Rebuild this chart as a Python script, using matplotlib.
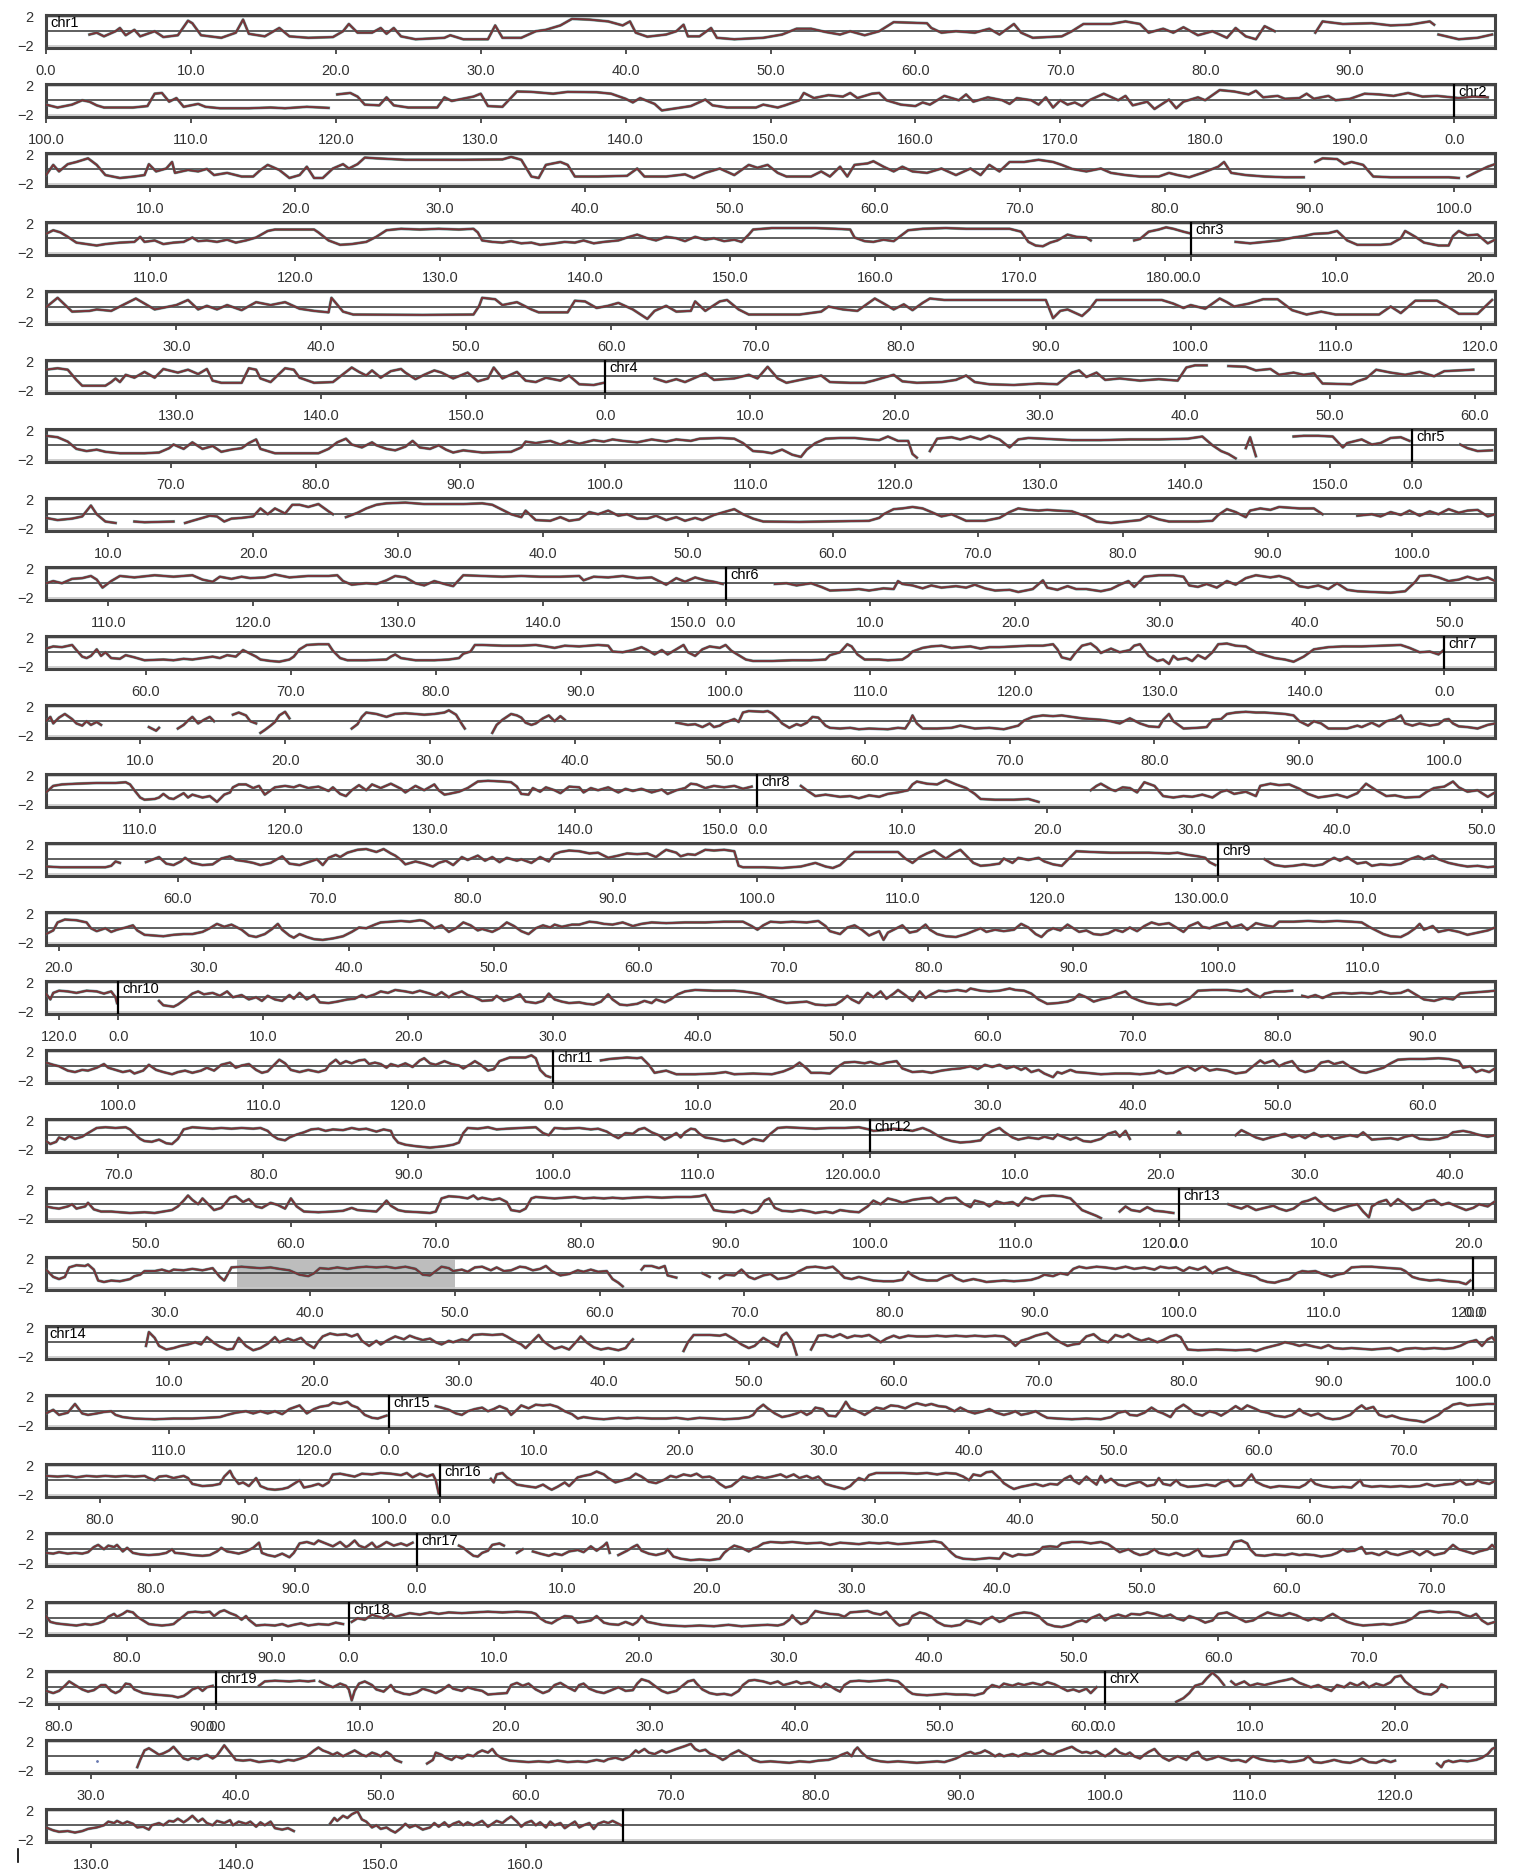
import numpy as np
import matplotlib
matplotlib.use('Agg')
import matplotlib.pyplot as plt  # pylint: disable=wrong-import-position

plt.rcParams['font.family'] = ['Liberation Sans', 'DejaVu Sans']

# chromosome sizes (Mb), laid end to end and wrapped every ROW_MB
CHROMS = ['chr1', 'chr2', 'chr3', 'chr4', 'chr5', 'chr6', 'chr7', 'chr8', 'chr9', 'chr10',
          'chr11', 'chr12', 'chr13', 'chr14', 'chr15', 'chr16', 'chr17', 'chr18', 'chr19', 'chrX']
CHROM_MB = [197.2, 181.8, 159.6, 155.7, 152.6, 149.6, 152.6, 131.8, 124.1, 130.0,
            121.9, 121.3, 120.3, 125.2, 103.5, 98.4, 95.3, 90.8, 61.4, 166.7]
ROW_MB = 100
HIGHLIGHT = ('chr13', 35.0, 50.0)
Y_TICKS = [-2, 2]
Y_TICK_LABELS = ['\u22122', '2']

# profile per row, "position_in_row:value", "|" = no data in between
ROW_PROFILES = [
    # row 1
    "3:-.45 3.5:-.2 4:-.7 4.8:0 5.1:.45 5.5:-.55 6.1:.2 6.5:-.7 7.5:0 8.1:-.8 9.1:-.55 9.8:1.45 10.1:1.1 10.7:-.55 12.1:-.9 13.1:-.2 13.6:1.6 14:-.35 15.1:-.7 16.1:.45 16.8:-.7 18.1:-.9 19.8:-.8 20.5:0 20.9:1 21.5:-.2 22.5:-.2 23.1:.45 23.5:-.35 24:.45 24.5:-.7 25.5:-1.1 27.5:-.9 27.9:-.55 28.8:-1.1 30.5:-1.1 31:.8 31.5:-.9 32.8:-.9 33.8:0 34.5:.2 35.5:.8 36.3:1.7 37.5:1.6 38.8:1.35 39.8:.8 40.3:1.35 40.7:-.2 41.5:-.75 42.8:-.45 43.5:0 44:.9 44.3:-.7 45.1:-.7 45.9:.45 46.3:-.9 47.5:-1.1 49.5:-.9 50.8:-.45 51.8:.35 52.8:.35 53.8:-.1 54.8:-.45 55.5:0 56.5:-.55 57.5:0 58.5:1.25 60.8:1.1 61.1:.45 61.8:-.2 62.8:0 64.1:-.2 65.1:.35 65.8:-.45 66.8:1 67.3:-.2 68.1:-.9 70.1:-.7 70.8:0 71.6:1 73.5:1 74.5:1.35 75.5:1 76.1:-.2 77.1:.35 77.8:-.2 78.5:.55 79.5:-.55 80.5:0 81.5:-.9 82.1:.45 82.8:-.7 83.5:-1.1 84.1:.7 84.8:0 | 87.6:-.2 88.1:1.35 89.5:1 91.5:1.1 92.8:.8 94.1:.9 95.5:1.35 95.8:.9 | 96.1:-.45 97.5:-1.1 98.8:-.9 99.8:-.45",
    # row 2
    "0:-.6 .8:-1 1.8:-.6 2.5:0 3:-.2 3.5:-.7 4:-1 6:-1 7:-.8 7.5:.9 8:1 8.5:-.2 9:.3 9.5:-.9 10.5:-.5 11:-.9 12:-1.1 14:-1.1 15.5:-1 16.5:-1.1 18:-.9 19.5:-1.05 | 20.1:.8 21:1 21.5:.5 22:-.6 23:-.7 23.5:.4 24:-.7 25:-1 27:-1 27.5:.4 28:-.1 29.5:.5 30:.9 30.5:-.8 31.5:-.9 32.5:1.2 33.5:1.15 35:.9 36:1.15 38:1.1 39:.9 40:.2 40.5:-.3 41:.3 42:-.5 42.5:-1.4 43.5:-1.1 44.5:-.8 45.5:.1 46:-.7 47:-1 49:-1 49.5:-.6 50.5:-1 51:-.7 52:0 52.3:1 53:.3 54:.7 55:.5 55.5:1 56:.3 57:.9 57.5:1 58:0 59:-.6 60:-.8 60.5:-.3 61:-.6 62:.6 63:0 63.5:.8 64:-.2 65:.4 66:0 66.5:-.5 67:.3 68:0 68.5:-.6 69:.4 69.5:-1 70:0 70.5:-.6 71:-.3 71.5:-.8 72:0 73:.9 74:0 74.5:.6 75:-.7 76:-.2 76.5:-1.2 77.5:.1 78:-1.1 78.5:-.2 79:.1 79.5:.4 80:0 81:1.4 82:1.2 83:.8 83.5:1.3 84:.4 85:.6 85.5:.2 86.5:.3 87:.9 87.5:.2 88.5:.6 89:0 90:.2 91:.9 92:.8 93:.6 94:1 95:.5 96:.6 97:.4 97.5:.3 98.5:.5 99.5:.4",
    # row 3
    "0:-.8 .5:.6 .9:-.3 1.5:.7 2.1:1 2.9:1.5 3.5:.6 4.1:-.8 5.1:-1.2 6.1:-1 6.8:-.8 7.1:.7 7.6:-.3 8.3:.1 8.7:1 8.9:-.5 9.8:-.1 10.5:-.3 11.1:.05 11.6:-.8 12.5:-.5 13.5:-1 14.3:-1 14.8:-.1 15.3:.6 16.1:-.1 16.8:-1.2 17.5:-.8 18:.35 18.5:-1.2 19.1:-1.2 19.8:.1 20.5:.7 20.9:.1 21.5:.7 22:1.6 22.8:1.5 24.8:1.3 26.1:1.3 28.8:1.3 31.5:1.35 32.1:1.7 32.8:1.3 33.5:-1 34:-1.2 34.5:.6 35.5:1 36:.6 36.5:-1 38.1:-1 40.1:-.9 40.8:.1 41.3:-1 42.8:-1 44.1:-.7 44.7:-1.2 45.5:-.5 46.5:.1 47.5:-.8 48.5:.6 49.1:.2 49.8:.6 50.5:-.5 51.1:-1 52.8:-1 53.5:-.3 54.1:-1 54.8:.35 55.3:-1 55.8:.6 56.7:.8 57.1:1.1 57.8:.35 58.5:-.3 59.1:.35 59.8:-.3 60.8:-.5 61.8:.1 62.8:-.8 63.8:.1 64.5:-.8 65.1:.6 65.8:-.3 66.5:1 67.5:1 68.5:1.3 69.5:1 70.1:.6 70.8:.05 71.8:-.3 72.8:.1 73.5:-.5 74.5:-.8 75.5:-1 76.8:-1 77.5:-.5 78.1:-.8 78.9:-1.1 79.8:-.5 80.9:.35 81.3:1 81.8:-.5 82.8:-.8 84.1:-1 85.5:-1.1 86.8:-1.1 | 87.6:1 88.1:1.5 89.1:1.4 89.6:.7 90.1:1 90.9:.6 91.6:-1 92.8:-1.1 94.8:-1.1 96.8:-1.1 97.5:-1.2 | 98.1:-1 98.8:-.3 99.5:.35 100:.7",
    # row 4
    "0:.6 .5:1.1 1:.8 1.5:.2 2.1:-.6 2.8:-.8 3.5:-1 4.1:-.8 5.1:-.6 6.1:-.5 6.5:.2 6.8:-.5 7.5:-.3 8.1:-.8 8.8:-.6 9.5:-.5 10.1:.1 10.5:-.4 11.1:-.3 11.8:-.5 12.5:-.2 13.1:-.6 13.8:-.3 14.5:.1 15.3:1 15.8:1.2 17.1:1.2 18.5:1.2 18.8:.8 19.5:-.3 20.3:-.9 21.1:-.8 22.1:-.5 22.8:.2 23.5:1.1 24.5:1.3 25.8:1.2 27.1:1.3 28.5:1.2 29.5:1.3 29.8:.8 30.1:-.3 30.8:-.5 31.5:-.6 32.1:-.4 32.8:-.7 33.5:-.6 34.1:-.9 35.1:-.7 35.8:-.5 36.5:-.6 37.1:-.3 37.8:-.7 38.5:-.5 39.5:-.3 40.1:.1 40.8:.5 41.5:0 42.1:-.3 42.8:.2 43.5:0 44.1:-.4 44.8:.2 45.5:-.2 46.1:0 46.8:-.4 47.5:-.2 48:-.5 48.5:.5 48.8:1.2 50.1:1.4 51.5:1.4 53.1:1.4 54.5:1.3 55.5:1.2 55.8:.1 56.5:-.4 57.1:-.5 57.8:-.2 58.5:-.4 59.1:.5 59.5:1.1 60.5:1.3 62.1:1.4 63.5:1.3 65.1:1.3 66.5:1.3 67.3:.9 67.8:-.5 68.3:-1 68.8:-1.1 69.3:-.6 69.8:-.3 70.5:.5 71.1:.2 71.8:.1 72.1:-.3 | 75.1:-.3 75.5:-.1 76.1:.9 76.8:1.2 77.3:1.5 77.8:1.3 78.5:.9 78.9:.7 | 82.1:-.5 83.1:-.7 84.1:-.5 85.1:-.3 86.1:.1 86.8:.3 87.5:.6 88.5:.7 89.1:1 89.8:-.3 90.5:-.9 92.1:-.9 92.8:-.8 93.5:0 93.8:1 94.5:.2 95.1:-.6 96.1:-1 96.8:-1 97.1:.3 97.5:1 98.1:.4 98.8:.5 99.5:-.7 100:-.2",
    # row 5
    "0:0 .8:1.3 1.8:-.6 3:-.5 3.5:-.3 4.5:-.5 6.2:1.2 7.5:-.3 9:.3 9.8:1 10.5:-.3 11.1:.2 11.8:-.3 12.5:.3 13.5:-.4 14.5:.7 15.5:.3 16.5:.7 17.5:-.2 18.5:-.5 19.5:-.7 19.7:1.3 20.5:-.6 21.2:-1 26:-1.05 29.5:-1 29.9:.2 30.1:1.3 31:1.1 31.5:.3 32.5:.7 33.5:-.3 34:-.7 36:-.7 36.5:.9 37.2:.8 38:-.1 38.8:.2 39.5:.6 40.5:-.3 41.5:-1.6 42:-.5 42.8:.2 43.5:-.6 44.5:-.5 44.8:.8 45.5:-.5 46.5:.8 47:1 47.8:-.3 48.5:-1 52:-1 53.5:-.6 54:.1 55:-.3 56:-.5 57.2:1.2 58:.3 58.5:-.3 59.2:.4 59.8:-.4 60.5:.6 61:1.2 62:1 65:1 69:1 69.5:-1.5 70:-.5 70.5:-.3 71.5:-1.2 72:-.3 72.5:1 77:1 77.8:.5 78.5:-.1 79:.3 80:-.2 81:1.2 81.5:.7 82:.1 83:.5 84:1.1 85:1.1 86:-.4 87:-1 88:-.6 89:-1 92:-1 92.8:.1 93.5:-.8 94.5:.9 96:.9 96.8:0 97.5:-.9 98.8:-.9 99.8:1",
    # row 6
    "0:.9 .8:1.1 1.5:.9 2.1:-.5 2.5:-1.3 4.1:-1.3 4.5:-.8 4.8:-.3 5.1:-.8 5.5:.2 6.1:-.2 6.8:.6 7.5:-.2 8.1:1 9.1:.5 9.8:.9 10.5:.3 11.1:1 11.5:-.6 12.1:-.9 13.5:-.9 14:1.1 14.5:.9 14.8:-.3 15.5:-.8 16.5:1.1 17.1:.9 17.5:-.2 18.5:-.9 19.8:-.8 21.1:1.2 21.6:.6 22.1:.1 22.5:.8 23.1:-.2 23.8:.7 24.5:1 24.8:.5 25.5:-.4 26.1:.2 26.8:.8 27.3:.5 28.1:-.3 29.1:.5 29.8:-.7 30.5:-.3 30.9:1.2 31.5:-.3 32.5:.6 33.1:-.6 33.8:-.8 34.5:-.2 35.5:-.6 36.1:.1 36.8:-1.1 37.8:-1.2 38.5:-.9 | 42:-.3 42.8:-.8 43.5:-.4 44.1:-.8 44.8:-.2 45.5:.4 46.1:-.5 47.5:-.3 48.5:.2 49.1:-.3 49.8:1.3 50.5:-.3 51.1:-.9 53.5:.1 54.1:-.8 55.5:-.9 56.5:-.9 57.1:-.6 58.5:.2 59.1:-.7 60.1:-.9 61.8:-.8 62.8:-.5 63.5:.1 64.1:-.8 65.1:-1.1 66.8:-1.2 68.5:-1 69.8:-1.1 70.8:.5 71.3:.8 71.8:-.1 72.5:.5 73.1:-.5 74.1:-.3 75.5:-.6 76.8:-.4 78.1:-.6 78.7:1.2 79.3:1.5 80.1:1.5 | 81.6:1.4 82.8:1.3 83.5:.8 84.5:1 85.1:.2 86.1:.5 86.8:.2 87.5:.4 88.1:-1 90.1:-1.1 90.5:-.7 91.1:-.3 91.8:.9 92.8:.5 93.8:.2 94.8:.6 95.8:0 96.5:.7 97.5:.8 98.5:.9",
    # row 7
    "0:1.3 .8:1.1 1.5:.5 2.1:-.5 2.8:-.8 3.5:-.6 4.1:-.9 5.1:-1.1 6.8:-1.1 7.8:-1 8.5:-.4 8.8:.1 9.5:-.5 10.1:.4 10.8:-.5 11.5:-.1 12.1:-.9 12.8:-.6 13.5:-.4 14:.3 14.5:.8 14.8:-.5 15.8:-1.1 18.8:-1.1 19.5:-.5 20.1:.4 20.7:.9 21.1:.1 21.8:-.3 22.5:.4 22.8:0 23.5:-.5 24.1:-.7 24.8:-.2 25.3:.6 25.8:-.3 26.5:-.5 27.1:0 27.6:-.6 28.1:-1 28.8:-.7 30.1:-1 32.1:-.9 32.8:-.3 33.1:.5 33.8:.3 34.8:.6 35.5:.1 36.1:.6 36.8:.2 37.8:.7 38.5:.5 39.1:.8 39.8:.6 40.8:.4 41.8:.8 42.8:.5 43.5:.8 44.5:.6 45.1:.9 46.5:1 47.5:.9 48.1:.3 48.8:-.8 49.5:-.9 50.1:-1.1 50.8:-.6 51.5:-1.3 52.1:-1.6 52.5:-.6 53.1:.3 53.8:.9 54.8:1 55.8:1 56.8:.8 57.5:.7 58.1:1.2 58.8:.6 59.5:.6 59.8:-1.2 60.1:-1.7 | 61:-.8 61.5:.9 62.5:1.1 63.1:.8 63.8:1.2 64.5:.8 65.1:1.3 65.8:.8 66.5:-.3 67.1:.8 67.8:1 68.8:.9 69.8:.8 70.8:.7 72.8:.7 74.8:.8 76.8:.8 78.8:.9 79.8:1.2 80.5:0 81.1:-.8 81.6:-1.2 82.1:-1.8 | 82.8:-.4 83.1:1.1 83.5:-1.5 | 86.1:1.2 86.8:1.3 87.8:1.3 88.8:1.2 89.5:-.3 89.8:.3 90.8:.8 91.5:.1 92.1:.3 92.8:1 93.5:1.1 94.1:.6 | 97.6:.1 98.1:-.4 98.8:-.8 99.8:-.7",
    # row 8
    "0:-.5 .8:-.8 1.8:-.6 2.5:-.3 3.1:1.2 3.5:0 4.1:-1 4.8:-1.2 | 6.1:-1 6.8:-1.1 8.8:-1 | 9.6:-1.2 10.1:-.9 10.8:-.5 11.3:-.2 11.8:-.3 12.3:-1 12.8:-.6 13.5:-.5 14.3:-.3 14.8:.8 15.3:0 15.8:.8 16.5:.1 17:1.3 17.5:1.3 18.1:1 18.8:1.4 19.5:.4 19.8:0 | 20.7:-.4 21.5:.2 22.1:.8 22.8:1.3 23.5:1.5 24.8:1.6 26.1:1.4 27.5:1.4 28.8:1.4 30.1:1.5 30.8:1.3 31.5:.6 32.1:0 32.8:-.4 33.1:.5 33.8:-.8 34.8:-.9 35.5:-.4 36.1:-.9 36.8:-.7 37.5:.3 38.1:0 38.8:.5 39.5:-.2 40.1:0 40.8:-.6 41.5:-.6 42.1:-.2 42.8:-.8 43.5:-.4 44.1:-.9 44.8:-.5 45.3:-.8 46.1:-.1 46.8:.3 47.5:.7 48.1:0 48.8:-.6 49.5:-1 52:-1.05 56.8:-.9 57.5:-.5 57.8:0 58.5:.7 59.1:.8 59.8:1 60.5:.8 61.1:.3 61.8:-.3 62.5:0 63.5:-.9 64.8:-.9 65.8:-.5 66.5:.3 67.1:.8 67.8:.6 68.5:.5 69.1:.6 69.8:.5 70.8:.4 71.8:-.3 72.5:-1 73.5:-1.2 74.5:-1 75.5:-.8 76.1:-.2 76.8:-.7 77.5:-1 79.5:-1 80.5:-.9 80.9:-.1 81.5:.7 82.1:.3 82.8:-.4 83.1:.5 83.8:.8 84.5:.6 85.1:1 86.5:.8 87.5:.8 88.1:0 | 90.5:-.2 91.5:0 92.1:-.3 92.8:.3 93.5:-.1 94.1:.5 94.8:-.2 95.5:.4 96.1:0 96.8:.7 97.5:.2 98.1:.5 98.8:.6 99.5:-.3 100:0",
    # row 9
    "0:0 .5:.3 1.1:0 1.8:.6 2.5:.7 3.1:1 3.5:.5 3.9:-.6 4.5:.3 5.1:1 6.1:.8 7.5:1.1 8.8:.9 10.1:1.1 10.8:.5 11.5:.2 12:.9 12.8:.6 13.5:.9 14.1:.7 15.1:.8 15.8:1.2 16.8:.8 18.1:1 19.5:1 20.1:1.1 20.5:.3 21.1:-.2 22.1:0 22.8:-.1 23.5:.4 24.1:1 24.8:.8 25.5:0 26.1:-.3 26.8:.3 27.5:-.1 28.1:-.4 28.8:1.1 30.1:1 31.5:.9 32.8:1 34.1:.9 35.5:.9 36.8:1 37.1:.4 37.8:.9 38.8:.8 39.8:1 40.8:.7 41.8:.8 42.8:-.2 43.5:.7 44.1:.2 44.8:.8 45.5:.4 46.1:.2 46.7:-.1 | 50.3:-.1 51.1:0 51.8:-.3 52.8:0 53.5:-.5 54.1:-1 55.5:-.9 56.1:-.8 56.8:-1 57.8:-.7 58.5:-.8 58.8:.3 59.1:-.1 59.8:-.3 60.5:-.7 61.1:-.3 61.8:-.6 62.8:-.4 63.5:-.6 64.1:-.2 64.8:-.7 65.5:-1 66.5:-.9 67.1:-1.2 68.1:-.8 68.8:.4 69.1:-.6 69.8:-.9 70.5:-.4 71.1:-.8 71.8:-.8 72.8:-1.1 73.5:-.8 74.1:-.2 74.7:.3 75.1:-.5 75.8:.9 76.8:1.1 77.8:1.1 78.5:.9 78.9:-.3 79.5:-.5 80.1:-.1 80.8:-.6 81.5:.3 82.1:-.2 82.8:.7 83.5:1.1 84.5:.8 85.1:1 85.8:.6 86.5:-.4 87.1:-.6 87.8:-.3 88.5:-.8 89.1:0 89.8:-.9 90.5:-1.1 91.5:-1.2 92.8:-1.3 93.8:-1.1 94.5:.2 94.8:1 95.5:1.1 96.1:.8 96.8:.3 97.5:.5 98.1:.9 98.8:.5 99.5:.8 100:.3",
    # row 10
    "0:.5 .5:.8 1.1:.7 1.8:1 2.1:.3 2.5:-.6 2.8:-.8 3.1:-.5 3.5:.4 3.8:-.5 4.1:0 4.5:-.8 5.1:-.9 5.5:-.4 6.1:-.7 6.8:-1.1 8.1:-1 8.8:-1.1 9.5:-.9 10.1:-1 10.8:-.8 11.5:-.6 12:-.8 12.5:-.4 13.1:-.6 13.6:.3 14:-.1 14.5:-.6 14.8:-1 15.5:-1.2 16.1:-1.3 16.8:-1 17.1:-.6 17.5:.4 18:1 18.8:1.1 19.5:1.1 19.8:.2 20.3:-.8 20.8:-1.1 22.1:-1.1 23.5:-1 23.8:-.6 24.1:-.3 24.5:-.8 25.5:-1.1 26.8:-1.1 27.8:-1 28.5:-.8 28.8:-.2 29.3:.1 29.6:1 30.1:1 31.5:.9 32.8:.9 33.8:1 34.5:.8 35.1:.6 35.8:.9 36.8:.8 37.5:.9 38.1:1 38.8:.9 39.1:.1 39.8:0 40.5:.3 41.1:.7 41.5:.3 42:-.3 42.5:.3 42.9:-.3 43.5:.4 44:1 44.3:0 44.8:-.5 45.3:.4 45.8:.8 46.5:.6 46.9:1 47.3:.2 47.8:-.4 48.3:-1 48.8:-1.2 50.1:-1.2 51.5:-1.1 52.8:-1.1 53.8:-1 54.1:-.4 54.8:0 55.3:1.1 55.6:.8 56:-.3 56.5:-1 57.5:-1 58.1:-1.1 59.1:-1 59.5:-.5 59.8:.1 60.5:.6 61.1:.8 61.8:.9 62.5:.6 63.1:.7 63.8:.8 64.5:.5 65.1:.7 65.8:.7 66.8:.8 67.8:.9 68.8:.9 69.5:1.1 69.8:.4 70.1:-.7 70.7:-1 71:-.2 71.5:.9 72.1:1.2 72.5:.6 72.8:-.1 73.5:.5 74.1:0 74.8:.3 75.1:.9 75.5:1.1 75.8:.3 76.1:-.5 76.7:-1.2 77.1:-1 77.5:-1.6 77.8:-.5 78.1:-1 78.7:-.8 79.1:-1.2 79.5:-.4 80:-.9 80.5:0 80.9:1.1 81.5:1.2 82.1:.9 82.8:.8 83.5:0 84.1:-.4 84.8:-.8 85.5:-1 86.1:-1.3 86.8:-.6 87.5:.4 88.5:.7 89.5:.8 90.8:.8 92.1:.9 93.5:1 94.1:.6 94.8:0 95.5:.1 96.1:-.3 96.4:.2",
    # row 11
    "0:0 .3:.6 .5:-.3 .9:.5 1.3:1 1.8:.3 2.1:-.3 2.5:-.6 2.8:0 3.1:-.5 3.5:-.1 3.8:-.5 | 7.1:-.8 7.6:-1.3 7.8:-.9 | 9.1:-1 9.5:-.5 9.8:.1 10.1:.6 10.5:-.3 10.9:.2 11.3:.6 11.6:0 | 12.9:.9 13.3:1.2 13.8:.8 14.1:0 14.5:-.3 | 14.8:-1.6 15.1:-1.2 15.5:-.6 15.8:-.1 16.1:.8 16.5:1.3 16.8:.4 | 21.1:-1 21.5:-.4 21.8:.6 22.1:1.2 22.8:1 23.5:.6 24.1:1 24.8:1.1 25.5:1 26.1:.9 26.8:1 27.5:1.2 27.8:1.5 28.3:.9 28.7:-.4 28.9:-1 | 30.8:-1.6 31.1:-.5 31.5:.2 31.8:.6 32.1:1 32.5:.8 32.8:.5 33.1:-.2 33.5:-.5 33.8:-.3 34.3:.4 34.7:.8 35.1:0 35.5:.7 35.8:.2 | 43.5:-.2 43.8:-.3 44.3:-.5 44.8:-.4 45.3:-.8 45.8:-.3 46.1:-.8 46.5:-.6 46.8:-.2 47.1:0 47.5:.3 47.8:-.1 48.1:1.2 48.5:1.4 49.5:1.3 49.8:1.4 50.1:1.1 50.5:.4 50.8:-.3 51.3:-.9 51.8:-.4 52.1:-.6 52.5:-.2 52.9:.6 53.3:.5 53.8:-.6 54.1:-.9 54.8:-1 55.5:-.9 56.1:-1.1 56.8:-1 58.1:-1.1 58.8:-.9 59.3:-1 59.6:-.1 59.8:.8 60.1:-.3 60.5:-1 61.5:-1 62.5:-.9 63.1:-.6 64.1:-1 65.1:-.9 66.1:-1.1 67.1:-.6 67.5:.1 68.1:.6 68.8:.8 69.5:.7 70.1:.8 70.8:.6 71.5:.4 72.1:.3 72.8:.2 73.5:0 74.1:-.3 74.8:.4 75.5:-.3 76.1:-.7 76.8:-.8 77.1:.2 77.5:1 77.8:0 78.5:-1 79.5:-.9 80.1:-.8 80.5:.2 81.1:.3 81.5:1 82.1:1.2 82.8:1.3 83.5:1.2 84.1:1.2 84.8:1.1 85.5:1 86.1:.8 86.5:0 87.1:-.6 87.5:0 88:-.3 88.5:-1 89.8:-1 90.5:-.6 90.8:-.8 91.5:-.2 92:-.7 92.5:0 93.1:.3 93.5:.8 93.8:-.3 94.3:-.6 94.8:-.3 95.5:-.6 96.1:-.4 96.5:.2 96.8:.3 97.1:-.3 97.5:-.7 98.1:-.8 98.8:-1 99.5:-.5 100:-.3",
    # row 12
    "0:-.3 .5:.6 1.1:.8 2.1:.9 3.5:1 4.8:1 5.5:1.1 5.8:.8 6.1:0 6.5:-1 6.8:-1.3 7.5:-1.2 7.8:-1 8.1:-.5 8.5:-1.1 8.8:-1.2 9.5:-.4 9.8:-1 10.1:-.6 10.8:-1 11.3:-.8 11.8:-1.6 12.3:-.6 12.7:-.3 12.9:.4 13.3:.8 13.8:.8 14.3:.3 14.7:.6 15.1:-.6 15.8:.4 16.5:.6 17.1:.4 17.5:.7 18.1:.3 18.8:.5 19.5:-.1 19.8:.4 20.3:-.5 20.7:-.8 21.1:0 21.6:.7 22.1:0 22.5:.8 23.1:.3 23.8:.9 24.5:.2 24.8:-.3 25.5:.6 26.1:0 26.8:.8 27.1:0 27.5:-.6 27.8:-.5 28.5:-.2 29.1:.3 29.8:1.2 30.5:1.3 31.5:1.2 32.1:1.1 32.5:.5 32.8:-.5 33.3:-.6 33.6:.3 34.1:-.2 34.5:.4 35.1:0 35.5:-.4 36.1:.5 36.8:.4 37.1:-.3 37.6:.3 38.1:0 38.8:.4 39.5:-.3 40:.2 40.5:-.1 41.1:.2 41.8:-.3 42.5:.1 42.9:-.5 43.5:0 44.1:.3 44.5:.9 44.9:.8 45.5:.3 46.1:.6 46.8:.4 47.5:.6 48.1:.2 48.7:.5 | 52.1:.6 52.5:0 53.1:-.8 53.8:-.6 54.8:-.9 55.5:-.8 56.1:-1.1 56.8:-.7 57.5:-.9 58.1:-.5 58.8:-.3 59.5:0 59.8:.8 60.1:1.2 60.8:.9 61.5:.8 62.1:1.4 62.8:.8 63.5:.3 64.1:-.5 64.5:-1.2 65.5:-1.3 66.8:-1.3 67.8:-1.2 68.5:-1.6 | 72.1:0 72.5:.6 72.8:.9 73.5:.1 73.8:-.1 74.3:.4 74.8:.3 75.3:-.3 75.8:1.1 76.5:.6 77.1:-.8 77.8:-1 78.5:-.8 79.1:-.9 79.8:-.6 80.5:-1 81.1:-.2 81.5:0 82:-.5 82.8:-.2 83.5:-.8 83.8:.6 84.5:.9 85.1:.7 85.8:.8 86.5:.2 87.1:-.5 87.8:-1 88.5:-.8 89.1:-.6 89.8:-1 90.5:-.4 91.1:.9 91.8:0 92.5:-.8 93.1:-.7 93.8:-1 94.8:-.9 95.3:-.2 95.8:.3 96.5:.5 97.1:1.2 97.5:.4 98.1:-.2 98.8:0 99.1:-.4 99.5:-.9 100:-.3",
    # row 13
    "0:-1 1:-1.1 4.1:-1.1 4.5:-.9 4.8:-.3 5.1:-.5 | 6.9:-.4 7.8:.3 8.3:-.6 8.8:-.8 9.3:-.3 9.6:.2 10.1:-.5 10.8:-.8 11.5:-.7 12.1:.1 12.7:.4 13.1:-.1 13.8:-.3 14.3:-.5 14.8:-.8 15.5:-.5 16.3:.4 16.8:-.6 17.5:-.8 18.1:-.4 18.7:0 19.1:-.8 19.5:.2 20:.6 20.3:.3 20.8:.9 21.5:1.3 22.1:1.4 22.8:1 23.3:1.4 23.8:.8 24.1:.5 24.5:-.1 24.8:-.7 25.5:-.3 26.1:-.6 26.7:-1 27.1:-.5 27.6:-.2 28.1:-.8 28.7:.3 29.1:-.1 29.8:.5 30.3:-.2 30.8:.3 31.3:-.4 31.8:.2 32.5:-.2 32.8:0 33.5:-.5 34.1:.3 34.7:-.3 35.1:.7 35.5:1 36.1:1.2 36.8:1.1 37.5:.8 38.1:.9 38.8:.2 39.5:.5 40.1:.8 40.8:.7 41.5:.8 42.1:.3 42.5:.9 42.8:1.3 43.5:.9 43.8:.4 44.3:.7 44.8:.6 45.5:1.3 46.1:1.2 46.8:1.3 47.5:1.1 47.8:-.9 48.1:-1.1 49.5:-1.1 50.8:-1.2 52.1:-1 53.1:-.5 53.8:-1 54.3:-1.2 54.8:-.8 55.5:.5 55.8:1 56.8:1 58.1:1 58.8:1 59.3:.1 59.8:-.5 60.3:.3 60.8:.8 61.3:1.2 61.8:.5 62.1:.1 62.7:.9 63.1:1.3 63.5:.5 64:-.5 64.5:-.9 65.1:-.8 65.8:-.6 66.1:.1 66.7:-.5 67.1:.2 67.8:-.1 68.5:.2 68.9:-.3 69.5:-.7 70.1:-.9 70.7:.3 71.1:1.1 72.1:1 73.5:.9 74.8:.9 76.1:.9 77.5:.8 78.1:.9 78.8:.6 79.5:.4 80:.2 80.3:-.4 80.7:-.8 | 84.1:0 84.5:-.5 84.8:-.8 85.5:-1 86.1:-.9 86.8:-.7 87.5:-.9 88.1:-.7 88.5:-.2 88.9:.2 89.3:-.2 89.8:.3 90.1:-.1 90.5:-.6 91.1:-.4 91.5:-.9 92.1:-.7 92.8:-.8 93.5:-.6 94.1:0 94.7:.4 95.1:0 95.7:.5 96.1:0 96.8:-.5 97.5:-.8 98.1:-1 98.8:-.9 99.5:-1.1 100:-1",
    # row 14
    "0:-.8 .5:-.3 .8:.8 1.3:1.2 2.1:1.1 2.8:.8 3.1:0 3.5:-.4 4.1:0 4.5:-.5 4.9:-.2 5.5:.1 6:.4 6.3:-.3 6.8:-.9 7.5:-1 8.1:-1.1 8.8:-.9 9.5:-.8 10.1:-.8 10.8:-.5 11.3:0 11.8:.6 12.3:.2 12.8:.5 13.5:-.2 14:-1 14.5:-1.2 15.1:-.8 15.6:-.1 16:.6 16.3:-.2 16.8:-1 17.1:-1.3 17.5:-.8 18:-1.2 18.5:-1.5 19.1:-1.6 19.8:-1.4 20.5:-1.1 21.1:-.5 21.6:.1 22.1:0 22.7:.5 23.1:.8 23.8:.9 24.5:1 25.1:.9 25.8:1.1 26.1:1 26.5:.5 26.8:0 27.3:.4 27.8:-.5 28.3:0 28.8:.8 29.3:.4 29.8:-.3 30.1:-.1 30.8:-.5 31.3:0 31.8:.8 32.3:.3 32.8:-.4 33.3:-.8 33.8:0 34.3:.4 34.8:.1 35.1:.5 35.6:.2 36.3:.5 36.8:.5 37.5:.9 38:.8 38.5:.6 39.1:.5 39.8:.8 40.5:.3 41.1:.6 41.8:.8 42.8:.7 44.1:.8 45.5:.8 46.8:.9 48.1:.9 48.7:.3 49.1:-.2 49.5:.4 50:.9 50.7:.8 51.5:.9 52.5:.8 53.3:1 53.8:.3 54.1:-.4 54.8:-.8 55.3:.1 55.8:.4 56.3:-.2 56.8:-1 57.5:-.4 57.8:-1.6 58.1:-.6 58.7:0 59.1:.4 59.6:-.6 60.1:-.4 60.7:.5 61:-.2 61.5:-.8 62.1:-1.1 62.8:-1.2 63.5:-.8 64:-.4 64.5:0 64.9:-.5 65.5:-.2 66.1:-.4 66.8:-.2 67.3:.6 67.8:.1 68.3:-.8 68.7:-1.2 69.1:-.4 69.5:0 70:-.3 70.5:.5 70.9:0 71.3:-.5 71.8:-.3 72.3:-.8 72.8:-.9 73.3:-.7 73.8:-.2 74.3:-.5 74.8:.1 75.3:-.4 75.8:.3 76.3:.8 76.8:.5 77.5:.7 78:.1 78.5:-.5 78.9:.3 79.5:.8 79.8:.2 80.3:0 80.8:.4 81.5:.8 81.8:.1 82.5:.5 82.9:-.2 83.5:.7 84.1:.4 84.7:.2 85.1:.9 86.1:.9 87.1:1 88.1:.9 89.1:1 90.1:.9 90.8:.8 91.3:.2 91.8:-.3 92.3:-.8 92.8:-1.1 93.5:-1.2 94:-.7 94.5:0 94.8:.6 95.1:-.2 95.7:.3 96.1:-.5 96.8:-.2 97.5:-.5 98.1:-.9 98.8:-.6 99.5:-.3 100:.1",
    # row 15
    "0:.5 .3:-.3 .5:.6 .9:.9 1.5:.8 2.1:.6 2.8:.9 3.5:.8 4:.5 4.5:.8 4.8:0 4.9:-.8 | 7.8:-.5 8.1:-1.1 8.8:-1.3 9.1:-1 9.6:-.3 10.1:.5 10.5:.8 10.9:.4 11.5:.6 12:.2 12.5:.8 12.9:0 13.5:.3 14:-.3 14.5:0 14.9:-.5 15.3:.2 15.8:-.3 16.3:-.5 16.8:.3 17.1:-.2 17.5:.6 18:-.3 18.5:.3 18.9:-.7 19.5:-.8 20.1:-.6 20.8:-.3 21.3:-.2 21.8:.3 22.1:0 22.7:.4 23.1:.8 23.6:.6 24.1:1 24.8:.8 25.3:.6 25.8:.9 26.5:.5 26.9:.2 27.3:.7 27.8:0 28.1:.4 28.7:.8 29.1:.3 29.6:0 30.1:-.5 30.8:-.4 31.1:.2 31.6:-.5 32.1:-.2 32.7:.4 33.1:-.6 33.8:-.8 34.3:-.5 34.7:.5 35.1:-.3 35.6:-.6 36.1:-.8 36.8:-.7 37.3:-.9 37.8:-1 38.3:-.6 38.8:.4 39.1:-.3 39.6:-1 40.1:-1.1 40.8:-.9 41.3:-.5 41.8:-.8 42.1:-.3 42.7:-.7 43.1:-.3 43.6:.4 44.1:.8 44.8:1 46.1:.9 47.5:.9 48.1:.8 48.8:.6 49.3:.4 49.8:0 50.5:-.5 51.1:-.8 51.8:-.7 52.5:-.6 53.1:-1 53.8:-1.1 54.5:-1 54.9:-.5 55.3:.2 55.6:-.3 56.1:-.8 56.7:.6 57.1:0 57.6:.8 58:-.2 58.5:.5 58.8:1 59.3:.3 59.8:-.5 60.3:.8 60.7:-.1 61.1:.4 61.6:.9 62.1:.8 62.9:1 63.5:.8 63.8:1.2 64.5:.9 65.1:.8 65.8:.9 66.5:1.2 66.9:1 67.5:.9 68:.5 68.5:-.3 69.1:-.9 69.8:-.8 70.5:-.6 70.9:-.3 71.3:.4 71.8:0 72.3:-.6 72.8:-.3 73.5:0 74:.5 74.5:.8 74.9:0 75.5:-.5 76:-.8 76.8:-1 77.6:-.9 78:-1.1 78.5:-.6 78.9:-.2 79.5:.9 80.5:1 81.5:1 82.5:.8 82.9:1.1 83.3:.5 83.8:0 84.1:.5 84.8:.8 85.5:.8 86:.9 | 86.7:.2 87.1:0 87.6:.3 88.1:-.1 88.8:.5 89.5:.6 90.1:.5 90.8:.6 91.5:.5 92.1:.8 92.8:.5 93.5:.6 94:1 94.5:.4 95.1:-.3 95.8:-.5 96.5:-.1 97.1:-.3 97.6:.5 98.1:.6 98.8:.7 99.5:.8 100:.9",
    # row 16
    "0:.5 .5:.2 .9:0 1.5:-.6 2:-.8 2.5:-.5 2.9:-.6 3.5:-.2 4:.3 4.3:-.2 4.8:-.5 5.3:-.8 5.8:-.6 6.1:-1 6.7:-.6 7.1:.2 7.6:-.5 8.1:-.8 8.7:-1.1 9.1:-.8 9.6:-.6 10.1:-.9 10.7:-.6 11.1:-.2 11.6:-.6 12.1:.2 12.7:.5 13.1:-.2 13.5:.1 14:.3 14.5:-.5 14.9:-.9 15.3:-.7 15.8:.3 16.1:.9 16.5:.4 16.9:-.5 17.5:-.8 18.1:-.5 18.8:-.8 19.3:-.5 19.6:.3 20:.9 20.3:.3 20.7:.7 21.1:.4 21.6:.8 22:.9 22.3:.3 22.7:.5 23.1:.3 23.5:-.2 23.8:.3 24.3:0 24.8:.4 25.3:-.1 25.8:.8 26.1:1.1 26.5:.4 26.9:.2 27.5:.7 28:.3 28.5:.1 28.8:-.3 29.3:.3 29.6:.7 30:.2 30.5:-.6 30.9:-.4 31.3:.7 32:1.2 33.1:1.2 33.5:1.5 33.8:1.1 34.1:-.5 34.5:-1.3 34.8:-1.5 | 38.3:.8 38.9:1 39.5:1.1 40.1:1.2 40.8:1.1 41.1:1.2 41.6:.2 42:-.9 42.8:-.6 43.5:-1.1 44.8:-1.1 46.1:-1 46.9:-.8 47.5:-1.1 48.8:-1 50.1:-1.1 50.9:-.7 51.5:-.2 52:.5 52.5:-.3 52.8:-.9 53.5:-.9 54.1:-1 54.7:0 55.1:.5 55.8:.6 56.5:.4 56.9:.6 57.5:.2 58:.5 58.7:.7 59.1:-.3 59.8:-.8 60.5:-.7 61.1:-.9 61.8:-.6 62.5:-.4 63.1:-.3 63.8:0 64.3:-.4 64.8:.2 65.3:-.1 65.8:.2 66.3:-.3 66.8:0 67.3:-.5 67.6:-.2 68:-.8 68.5:-.5 68.9:-1 69.5:-1.5 69.8:-.8 70.1:-1 70.7:-.5 71.1:-.8 71.8:-.9 72.8:-1.1 73.8:-1 74.8:-1 75.5:-1.1 76.5:-.9 76.8:-.6 77.3:-1 77.8:-.9 78.3:-.4 78.8:0 79.3:-.6 79.8:0 80.3:-.6 80.8:-.4 81.5:-.6 82.1:-1 82.8:-.8 83.3:0 83.8:.8 84.1:.4 84.7:.8 85.1:0 85.5:.4 86:.7 86.5:-.5 86.9:-.8 87.5:-.5 88:.5 88.5:.7 88.9:.3 89.5:.6 90.1:-.2 90.7:-.8 91.1:-.9 91.8:-.5 92.3:-.2 92.8:.4 93.3:.9 94.1:1 95.1:1 96.1:1.1 96.8:1 97.5:.7 97.8:-.2 98.3:0 98.7:-.8 99.1:-.5 99.6:-.8 100:-.3",
    # row 17
    "0:-.8 .3:-1.2 .7:-.9 .9:-.3 1.3:-.6 1.6:-.1 2:-.5 2.5:-.2 2.9:.3 3.5:1 4.1:1.1 4.8:1 5.5:1.1 5.8:.8 6.1:.2 6.5:-.5 6.8:-.8 7.3:-.9 7.8:-.6 8.3:-1.1 8.7:-1.2 9.1:-.5 9.5:.8 10.1:1.1 10.8:1 11.5:.9 12.1:1 12.8:.9 13.5:1 14.3:.9 14.8:1 15.3:.6 15.6:0 16:-.5 16.5:-.7 16.8:-.3 17.3:.1 17.8:.4 18.3:.8 18.8:.9 19.3:.6 19.8:.8 20.5:.7 21.1:1 21.6:.8 22.1:.9 22.8:.5 23.3:.8 23.8:.6 24:-.3 24.3:-1 24.8:-1.3 25.5:-1.5 26.5:-1.7 27.5:-1.5 28.1:-1.3 28.5:-1 28.8:.3 29.1:1 29.8:.9 30.5:1.1 31.1:.8 31.8:.9 32.8:1 33.8:1.1 34.3:.3 34.7:0 35.1:1 35.8:.9 36.8:1 37.6:.8 38.1:.9 38.7:.5 39.1:0 39.5:-.4 40:.3 40.5:.2 40.9:.8 41.3:1 41.8:.4 42.3:0 42.7:-.6 43.1:-.2 43.5:.3 43.8:-.3 44.1:.4 44.5:.9 44.8:.8 45.1:.2 45.5:-.3 46.1:-.5 46.8:-.8 47.5:-.6 48.1:-1.2 48.8:-.5 49.5:-.8 50:.2 50.5:1 51.1:1.1 52.1:1 53.1:.9 54.1:1 55.1:1 56.1:1.1 56.8:.8 57.1:.6 57.8:.7 58.5:.9 59.1:.8 59.8:.6 60.5:1 61:.6 61.5:0 62:-.5 62.5:-.8 63.1:-1 63.8:-.9 64.5:-.7 64.8:0 65.3:.6 65.8:1 66.1:.5 66.7:-.3 67.1:-.6 67.8:-.3 68.5:-.5 68.9:-.2 69.5:-.5 69.8:.1 70.3:-.3 70.7:-.6 71.1:-.3 71.6:-.8 72.1:-.9 72.8:-.5 73.3:.2 73.8:.5 74.1:-.2 74.5:.6 74.8:-.5 | 78.1:.3 78.2:.5 78.3:.2 | 82.1:0 82.5:.7 82.9:.3 83.5:-.3 84:-.6 84.5:-.3 84.9:-.1 85.5:.2 86:-.3 86.5:0 86.9:-.4 87.5:.3 88:-.2 88.5:0 88.9:-.5 89.5:-.2 90:0 90.5:-.2 90.9:.4 91.5:-.6 92.1:-.5 92.8:-.4 93.3:-.6 93.8:-.2 94.3:0 94.8:-.5 95.5:-.6 96.1:-.5 96.7:-.2 97.1:.4 97.8:.6 98.3:.4 98.8:.1 99.5:-.2 100:0",
    # row 18
    "0:-.3 .5:-.5 .9:-.6 1.5:-.3 1.8:0 2.1:-.6 2.7:-.3 2.9:.2 3.3:-.7 3.8:-1 4.5:-1 5.1:-1.1 5.8:-1.2 6.8:-1.1 7.5:-1.2 8.1:-1 8.7:-.8 9.1:-.3 9.5:.5 9.8:1.2 10.1:.6 10.5:0 10.8:.8 11.1:.2 11.6:-.8 12.1:-.5 12.7:.9 13.1:1.1 13.6:.3 14:.7 14.5:-.3 14.9:-.5 15.5:.2 16:-.1 16.5:-.6 16.9:.8 17.3:-.3 17.8:-1 18.8:-1.1 19.8:-1 20.5:-.9 21.1:-.5 21.5:-.8 22.1:-.9 22.8:-1 23.1:-.4 23.5:.5 23.8:-.2 24.3:-.8 24.8:-1 25.8:-1.1 26.5:-1.2 26.9:-1 27.3:.8 27.8:1.1 28.5:1 29.1:.8 29.5:1.2 29.8:.7 30.1:.9 30.8:.6 31.3:.8 31.8:.3 32.1:-.8 32.7:-1 33.1:-.6 33.5:.8 33.8:1 34.5:.9 35.1:.8 35.8:.9 36.5:1 37.1:.8 37.8:.9 38.5:.8 39.1:.9 39.8:.8 40.5:.9 41.5:1 42.5:.9 43.5:1 44.5:1 45.1:1.1 45.5:1.3 45.8:.2 46.1:-.8 46.7:-1 47.5:-1.1 48.1:-.8 48.7:-1.2 49.1:-.9 49.6:.5 49.9:.8 50.3:-.5 50.8:-.9 51.5:-1 52.1:-.8 52.7:-1 53.1:-1.2 53.8:-1 54.3:-1.2 54.8:-.8 55.5:-1 56.1:-1.1 56.7:-.3 57.1:.5 57.6:0 58.1:.8 58.7:.5 59.1:.2 59.8:.6 60.5:.8 61.1:.9 61.6:.2 62.1:.8 62.8:.9 63.3:.1 63.8:-.4 64.1:.5 64.7:.2 65.1:-.3 65.6:.4 66.1:.1 66.7:.3 67.1:-.2 67.6:.9 68.1:.6 68.7:1.1 69.5:1.2 70.1:1.1 70.7:.8 71.1:0 71.5:-.8 72:-1.2 72.5:-1.6 72.8:-1.9 | 74.1:-1 74.5:-.3 74.9:-.8 75.5:-1 76:-.4 76.5:-.9 77.1:-1 77.8:-1.2 | 81.6:0 82:-.3 82.5:-.6 82.9:-.2 83.5:-.8 84.1:-.5 84.7:-.2 85.1:-.6 85.6:-.9 86.1:-.6 86.7:.3 87.1:.5 87.6:.9 88:.2 88.5:-.6 88.9:-.9 89.5:-.5 90:-.2 90.5:0 90.9:-1 91.3:-1.8 91.5:-.3 92:.3 92.5:.6 92.8:-.2 93.3:.7 93.8:0 94.3:-.8 94.8:-.5 95.3:.4 95.8:.6 96.3:-.1 96.8:.2 97.5:-.4 98:-.8 98.5:-.5 98.9:0 99.5:-.3 100:.4",
    # row 19
    "0:.5 .5:-.5 .9:-.8 1.3:-.5 1.6:.8 2.1:1.1 2.7:1 2.9:1.2 3.3:.5 3.6:-1 4:-1.2 4.5:-1 5.1:-1.1 5.8:-.8 6.1:-.4 6.5:-.2 6.8:.3 7.5:.3 8:.5 8.5:.2 8.8:.5 9.5:.4 10.1:.6 10.8:.4 11.5:.7 12:-.5 12.3:-1 12.5:-.3 12.8:.8 13.5:.9 14.1:.8 14.8:.7 15.5:.8 16.1:.6 16.8:.4 17.5:-.2 18.1:-.4 18.5:0 18.9:.7 19.5:.6 20.1:.8 20.8:.6 21.5:.8 22.1:.9 22.8:.8 23.5:.9 24.1:.7 24.8:.9 25.5:.6 26:-.2 26.5:-.3 26.9:.3 27.3:.9 27.8:.7 28.1:.3 28.7:.5 29.1:.2 29.6:.8 30.1:.9 30.7:.4 31.1:.8 31.6:.3 32.1:.4 32.7:.9 33.1:.8 33.6:.4 34.1:.6 34.5:1 34.9:.3 35.5:-.3 36.1:-.1 36.7:.4 37.1:.2 37.6:.5 38.1:.2 38.7:.3 39.1:-.8 39.5:-1.3 39.8:-1.8 | 41.1:.5 41.3:1 41.8:1 42.3:.7 42.7:1 42.9:-.3 43.5:-.6 | 45.3:0 45.8:-.5 | 46.5:-.7 46.9:-.2 47.5:-.3 48:.5 48.5:-.5 48.9:-.8 49.5:-.3 50:-.1 50.5:-.8 51.1:-.6 51.6:-.2 52:.3 52.5:.8 53.1:.9 53.8:.7 54.3:.9 54.7:.2 55.1:-.6 55.6:-.8 56.1:-.5 56.7:-.8 57.1:-1 57.8:-1.1 58.5:-1.1 59.1:-.9 59.5:.2 59.8:-.3 60.3:-.8 60.8:-1 61.5:-1 62:-.5 62.5:-.2 62.8:-.7 63.3:-1.1 64:-.8 64.5:-1 64.9:-1.2 65.5:-1.1 66.1:-1 66.8:-1.1 67.5:-1 68:-.9 68.5:-.6 68.9:-.2 69.5:-.4 70:0 70.5:-.2 70.9:.6 71.3:.9 71.8:.7 72.5:.9 73.1:.8 73.8:.6 74.5:.9 75.1:.6 75.8:.8 76.5:.5 76.9:.9 77.5:.7 78:.8 78.5:.3 78.9:.8 79.5:.5 80:.9 80.5:0 80.9:.5 81.5:.8 82:.3 82.5:0 82.9:-.2 83.5:-.5 83.8:-.9 84.3:-1.2 84.8:-1.3 85.3:-1 85.8:-.8 86.3:0 86.7:.3 87.1:.2 87.6:.3 88.1:-.1 88.7:-.5 89.1:-.2 89.6:0 90.1:.8 90.8:.9 91.5:.9 92.1:.8 92.8:.7 93.5:.6 93.8:.3 94.3:-.5 94.8:-.8 95.5:-1 96.1:-.9 96.8:-1.1 97.5:-1.2 98:-1.5 98.3:-1",
    # row 20
    "6.9:-.5 7.1:1.4 7.5:.6 7.8:-.5 8.3:-1 8.8:-.8 9.3:-.5 9.8:-.3 10.3:0 10.7:-.3 11.1:.7 11.6:-.1 12:-.6 12.5:-1 12.9:-.9 13.3:.6 13.8:-.5 14.3:-1.1 14.8:-.8 15.3:-.2 15.8:.7 16.1:0 16.7:.5 17.1:.2 17.6:.6 18:-.2 18.5:-.8 18.8:.1 19.1:.8 19.6:1.2 20.1:1 20.7:1.1 21.1:.8 21.5:1.1 21.8:.2 22.3:-.5 22.8:.2 23.1:-.3 23.6:.3 24.1:.8 24.7:.4 25.1:.9 25.5:.6 26:.3 26.5:.5 26.9:0 27.3:-.3 27.8:.2 28.1:0 28.7:.4 29.1:.2 29.5:1 30.1:1.1 30.8:1 31.5:1.1 31.8:.8 32.3:.2 32.8:-.3 33.1:-.8 33.6:.2 34:1 34.3:.2 34.7:-.4 35.1:-.9 35.6:-.6 36.1:-1 36.7:.3 36.9:.8 37.3:0 37.8:-.7 38.3:-1 38.8:-.8 39.5:-1.1 40:-.8 40.3:0 40.5:.4 | 44:-1.2 44.3:0 44.7:1 45.1:1 45.8:1 46.5:.9 46.9:1.1 47.5:.4 48:-.3 48.5:-.8 48.9:-.5 49.5:.6 50:0 50.5:-.6 50.8:.9 51.1:1.3 51.5:.2 51.8:-1.7 | 52.8:-1 53.3:.9 53.8:1 54.3:.7 54.8:1.1 55.3:.6 55.8:.9 56.3:.8 56.8:1 57.3:.4 57.6:0 58:.5 58.5:.9 58.9:.6 59.5:.9 60.1:.8 60.8:.8 61.5:.9 62.1:.8 62.8:.9 63.5:.8 64.1:.9 64.8:.8 65.5:.9 66.1:.8 66.5:.3 66.9:-.5 67.3:.2 67.8:.5 68.3:.9 68.7:1.1 69.1:1.3 69.6:.5 70:0 70.5:-.5 70.9:-.3 71.3:-.2 71.8:.8 72.3:1.1 72.8:.3 73.3:0 73.8:1 74.3:.7 74.7:1.1 75.1:.6 75.6:.2 76.1:.5 76.7:0 77.1:.3 77.6:.8 78:1 78.3:.7 78.5:0 78.8:-1 79.5:-1.1 80.8:-1 82.1:-1.1 83.1:-1 83.5:-1.2 84.1:-.8 84.7:-.5 85.1:-.3 85.5:0 86:-.2 86.5:-.5 86.9:-.3 87.5:-.6 88:-.8 88.5:-.4 88.9:-.8 89.5:-.9 90.1:-.8 90.8:-.9 91.5:-1 92.1:-.9 92.8:-.8 93.3:-1.2 93.8:-.9 94.5:-.8 95.1:-.9 95.8:-.8 96.5:-.9 97.1:-.8 97.6:-.5 98.1:0 98.7:.3 99.1:-.5 99.5:.4 99.8:.7 100:.2",
    # row 21
    "0:-.3 .5:.2 .9:-.5 1.5:-.2 2:1 2.5:-.3 2.9:-.5 3.5:-.3 4:-.1 4.5:0 4.8:-.5 5.3:-.8 6.1:-1 7.5:-1.1 8.8:-1 10.1:-1 11.1:-.9 12:-.8 12.5:-.5 13.1:-.2 13.8:0 14.3:-.3 14.8:0 15.3:-.3 15.8:0 16.3:-.4 16.8:.3 17.5:.8 18:-.3 18.5:.3 18.9:.6 19.5:.8 19.8:1.2 20.3:1 20.8:1.3 21.1:.8 21.5:.5 22:-.5 22.5:-.9 22.9:-1 23.5:-.6 | 26.9:.7 27.3:.5 27.8:.2 28.3:-.3 28.7:-.5 29.1:0 29.6:.3 30.1:.5 30.5:0 30.9:.3 31.3:.7 31.8:.3 32.1:-.5 32.5:.2 32.8:.8 33.3:.4 33.8:.9 34.3:.8 34.8:.9 35.3:.6 35.8:0 36.3:-.4 36.7:-1 37.1:-.8 37.8:-1 38.5:-1.1 39.5:-.9 40.1:-1 40.8:-.9 41.8:-1 42.8:-1 43.5:-.9 44.3:-1.1 45.1:-.9 46:-1 46.8:-1.1 47.8:-1 48.5:-.8 48.8:-.5 49.1:.3 49.5:.9 49.8:.4 50.3:-.3 50.8:-.8 51.3:-.6 51.8:-.3 52.1:0 52.5:-.5 52.8:-.2 53.1:.5 53.6:.3 54:-.6 54.5:-.7 54.9:.3 55.2:1.3 55.5:.4 56:0 56.5:-.5 56.9:0 57.3:.5 57.8:.3 58.3:.8 58.8:.7 59.3:.4 59.8:.9 60.1:1.1 60.7:.8 61.1:1 61.6:.7 62.1:.6 62.7:0 63.1:.5 63.6:0 64.1:-.3 64.7:0 65.1:.3 65.6:-.2 66.1:-.5 66.5:-.3 66.9:0 67.3:-.5 67.8:-.3 68.3:0 68.7:-.5 69.1:-.9 69.8:-1 70.8:-1.1 71.8:-1 72.8:-1.1 73.5:-.8 74:-.2 74.5:0 74.8:-.5 75.3:-.6 75.8:-.2 76.3:.5 76.7:0 77.1:-.3 77.6:-.8 78:.3 78.5:.9 78.8:.5 79.3:-.3 79.8:-.6 80.3:0 80.7:-.2 81.1:-.6 81.6:0 82.1:.7 82.5:.2 82.9:.8 83.5:.3 83.8:0 84.3:-.2 84.8:-.6 85.5:-.8 86:-.5 86.5:.3 86.8:-.2 87.3:-.6 87.8:-.3 88.3:-.9 88.8:-1.1 89.3:-1 90:-.5 90.5:.4 90.8:.8 91.1:.3 91.6:.6 92:-.5 92.5:-.8 92.9:-.6 93.5:-1 94.1:-1.2 94.6:-1.3 95.1:-1.5 95.6:-1 96.1:-.5 96.5:.2 96.8:.5 97.1:.9 97.6:1.1 98.1:.8 98.8:.9 99.5:1 100:1",
    # row 22
    "0:.6 .8:.5 1.5:.6 2.1:.4 2.8:.6 3.5:.5 4.1:.6 4.8:.5 5.5:.6 6.1:.5 6.8:.6 7.1:.3 7.5:0 7.8:.5 8.3:.6 8.8:.3 9.5:.6 9.8:.3 10.1:-.5 10.8:-.8 11.5:-.7 12:-.5 12.3:.5 12.7:1.3 12.9:.5 13.3:-.5 13.6:-.3 14:-.8 14.5:.3 14.8:-.8 15.3:-1.2 15.8:-1.3 16.3:-1.2 16.7:-1 17.1:-.5 17.5:0 17.8:-1 18.3:-.8 18.8:-.5 19.1:-.8 19.5:-.3 19.8:.8 20.3:.9 20.8:.7 21.3:.5 21.8:.9 22.5:.8 23.1:1 23.8:.9 24.5:.7 24.9:1 25.3:.4 25.8:.9 26.3:.5 26.7:.8 26.9:0 27.1:-1.8 | 30.7:.2 30.9:-.3 31.1:.8 31.5:1 31.8:.4 32.1:0 32.5:-.6 33.1:-.8 33.8:-1 34.3:-.6 34.7:-1.1 34.9:-1.3 35.3:-.9 35.8:-.3 36.1:-.8 36.7:.4 37.1:.6 37.6:.8 38:1.2 38.5:.8 38.8:.3 39.3:-.3 39.8:0 40.3:.3 40.7:.9 41.1:.5 41.6:-.2 42.1:-.4 42.7:.1 43.1:.6 43.5:.4 44:.8 44.5:.6 44.9:.9 45.3:.4 45.8:.5 46.1:.2 46.5:-.5 46.9:-1 47.3:-.8 47.8:0 48.1:.5 48.7:.2 49.1:.5 49.6:.3 50.1:.5 50.7:.8 51.1:.4 51.6:.8 52:.3 52.5:.6 52.9:.2 53.3:.5 53.8:-.5 54.3:-.8 54.7:-1 55.1:-1.2 55.5:-.8 55.8:-.2 56.1:.3 56.5:0 56.8:.7 57.3:1 58.1:1 59.1:1 60.1:.9 60.8:1 61.5:.8 62.1:1 62.8:.9 63.3:.5 63.7:0 64:.8 64.5:.6 64.9:1.1 65.3:1.2 65.8:.3 66.1:-.4 66.5:-.9 66.8:-1.2 67.3:-.9 67.8:-.7 68.3:-.5 68.8:-.8 69.3:-.5 69.8:-.6 70.3:.2 70.7:.6 70.9:0 71.3:-.5 71.8:.5 72.1:0 72.5:-.6 72.8:.6 73.1:-.3 73.5:.2 74:-.6 74.5:-.8 74.9:-.5 75.5:-.2 76:-.8 76.5:-.6 76.8:.3 77.1:-.5 77.6:-.7 78:0 78.3:-.6 78.8:-.9 79.5:-.8 80.1:-.6 80.7:-.8 81.1:-.3 81.6:0 82:-.8 82.5:-.7 82.9:.1 83.2:.8 83.5:-.2 84:-.7 84.5:-1 85.1:-.8 85.8:-.9 86.5:-1 86.9:-.6 87.3:.1 87.6:-.5 88.1:-.8 88.8:-1 89.5:-.9 90.1:-1 90.7:0 90.9:-.7 91.5:-.9 92.1:-.8 92.8:-.9 93.5:-.8 94.1:-.9 94.8:-.8 95.3:-.5 95.8:-.8 96.5:-.6 97.1:-.5 97.6:0 98:-.6 98.5:-.5 98.8:0 99.1:-.3 99.6:-.5 100:-.1",
    # row 23
    "0:-.5 .5:-.6 .9:-.4 1.5:-.6 2:-.5 2.5:-.6 2.9:-.4 3.3:.3 3.6:.6 4:0 4.3:.5 4.7:.3 4.9:.6 5.3:-.3 5.6:.2 6:-.5 6.5:-.7 7.1:-.8 7.8:-.7 8.3:-.5 8.7:0 8.9:-.5 9.5:-.6 10.1:-.8 10.8:-.9 11.3:-.8 11.8:-.3 12.1:.2 12.5:-.3 12.8:-.4 13.3:-.6 13.8:-.3 14.3:.2 14.7:.9 14.9:-.5 15.3:-.8 15.8:-1 16.3:-.6 16.8:-1.1 17.1:-.5 17.5:.8 18:1 18.5:.7 18.8:1.2 19.3:.8 19.8:.4 20.3:1 20.7:.3 20.9:.5 21.3:1.2 21.6:.5 22:.2 22.5:.9 22.8:.2 23.1:.5 23.5:1 24:.5 24.5:.8 24.9:.5 25.3:.9 | 28.5:.5 28.8:.2 29.1:-.3 29.5:-.9 29.8:-1 30.1:-.5 30.5:-.2 30.8:.6 31.3:.8 31.6:.5 | 32.5:-.5 32.9:0 | 33.6:-.3 34.1:-.6 34.7:-.9 35.1:-.6 35.6:-.8 36.1:-.3 36.7:-.1 37.1:-.4 37.6:.4 38:-.2 38.5:.5 38.7:.9 38.9:-.5 | 39.5:-.8 39.8:-.5 40.1:-.2 40.5:.3 40.8:.6 41.1:-.2 41.6:-.6 42.1:-.8 42.7:-.5 42.9:0 43.3:-1 43.8:-1.3 44.5:-1.5 45.1:-1.4 45.8:-1.5 46.5:-1.3 46.8:-.5 47.1:0 47.5:.5 48:.2 48.5:-.3 48.8:.1 49.1:.3 49.5:.8 50:1 50.8:.9 51.5:1 52.5:.8 53.5:.9 54.1:.6 54.8:.9 55.5:.8 56.1:.7 56.8:.9 57.5:.8 58.1:.9 58.8:.7 59.5:.8 60.1:.9 60.8:1 61.3:1.1 61.8:.9 62.1:.3 62.5:-.5 62.8:-1 63.3:-1.3 64.1:-1.4 65.1:-1.2 65.8:-1.3 66.1:-.5 66.7:-1 67.1:-.7 67.6:-.8 68.1:-.7 68.5:-.3 68.8:.3 69.3:.4 69.8:.3 70.1:.8 70.8:1 71.5:1 72.1:.8 72.8:1 73.3:.7 73.8:0 74.1:-.4 74.7:0 75.1:-.5 75.5:-.8 76:-.6 76.5:0 76.8:-.5 77.5:-.8 78:-.5 78.5:-.9 78.9:-.7 79.5:0 79.8:-.9 80.3:-1 80.9:-.9 81.5:-.7 81.8:.3 82:1 82.5:1.2 82.9:.8 83.1:0 83.5:-.8 84.1:-.9 84.8:-.7 85.5:-.8 86:-.6 86.5:-.8 86.9:-.7 87.5:-.8 88:-1 88.7:-.8 89.1:-.5 89.5:0 89.8:-.3 90.3:-.2 90.8:.3 91.1:-.6 91.5:-.5 92:-.8 92.5:-.3 92.8:-.6 93.3:-.8 93.8:-.5 94.3:-.2 94.8:-.8 95.3:-.2 95.8:-.8 96.5:-.5 97.1:.6 97.5:0 98:-.3 98.5:-.6 98.9:-.3 99.5:0 99.8:.6 100:.2",
    # row 24
    "0:.3 .3:-.5 .7:-.7 1.1:-.8 1.6:-.9 2.1:-1 2.7:-.8 3.1:-.9 3.6:-.7 4:-.4 4.3:.2 4.7:.6 4.9:.2 5.3:.6 5.6:1 6:.8 6.3:.2 6.7:-.3 7.1:-.8 7.5:-.9 8:-1 8.5:-.9 8.8:-.8 9.1:-.3 9.5:.3 9.8:.8 10.3:.9 10.8:.8 11.3:.9 11.6:.3 12:.9 12.3:1.1 12.7:.7 13.1:.4 13.5:-.2 13.8:.3 14:-.2 14.5:-1 15.1:-.9 15.8:-1 16.3:-.8 16.7:-1.1 17.1:-.9 17.6:-.7 18.1:-1 18.8:-.8 19.5:-.9 20:-.6 20.5:-.8 | 21.1:-.5 21.5:0 22:-.2 22.5:.5 22.8:.3 23.3:0 23.8:.6 24.1:.2 24.7:.5 25.1:.7 25.8:.5 26.5:.8 27.1:.6 27.8:.8 28.7:.7 29.5:.8 30.5:.9 31.5:.8 32.5:.9 33.5:.8 33.8:.6 34.1:0 34.5:-.5 34.9:-.7 35.3:-.2 35.8:.3 36.3:.2 36.7:-.6 37.1:-.5 37.6:-.3 38:.3 38.5:-.6 38.9:-.8 39.5:-.9 40:-.5 40.5:-.9 40.8:-.5 41.1:.3 41.5:-.5 42:-.7 42.5:-.9 43.1:-1 44.1:-1.1 45.1:-1 46.1:-1.1 47.1:-.9 48:-1.1 48.8:-1 49.8:-.9 50.5:-1 50.9:-.8 51.3:-.2 51.5:.4 51.8:-.3 52.1:-.8 52.5:-.5 52.8:.3 53.1:1 53.5:.8 54.1:.6 54.7:.5 55.1:.2 55.5:.8 56.1:.9 56.7:1 57.1:.7 57.6:.5 58:.9 58.3:.2 58.7:-.7 58.9:-1 59.5:-.7 59.8:.3 60.3:.8 60.7:.6 61.1:.2 61.5:-.5 62:-1 62.5:-1.1 63.1:-.9 63.5:-.3 64:-.5 64.5:-.8 64.8:-.3 65.3:.2 65.8:-.5 66.1:-.3 66.5:.3 66.9:.6 67.5:.8 68:.7 68.5:.3 68.8:-.3 69.1:-.8 69.6:-1.1 70.1:-1.2 70.7:-.9 71.1:-.5 71.5:-.3 71.8:-.5 72.1:0 72.7:.5 73.1:-.3 73.5:.2 74:.5 74.5:.2 74.9:.6 75.5:.5 76:.8 76.5:.6 76.8:.4 77.1:.2 77.6:.5 78:0 78.5:-.3 78.9:.3 79.5:-.1 80:-.6 80.5:-.3 80.9:.6 81.5:.8 82:.3 82.3:0 82.8:-.5 83.3:-.3 83.8:.3 84.3:.8 84.8:.5 85.3:.3 85.8:.7 86.3:.4 86.7:0 87.1:-.3 87.5:0 88:-.3 88.5:.3 88.8:.6 89.3:0 89.8:-.5 90.3:-.8 90.9:-1 91.6:-.9 92.3:-.8 92.8:-.9 93.3:-.7 93.8:-.5 94.3:0 94.8:.8 95.5:1 96.1:.8 96.8:.9 97.5:.8 97.8:.5 98.3:.2 98.7:.6 99.1:-.3 99.5:-.8 100:-.5",
    # row 25
    "0:-.5 .5:-.8 .9:-.5 1.3:.2 1.6:.8 2:.3 2.5:-.3 2.9:-.6 3.3:-.4 3.8:.3 4.1:.3 4.5:-.5 4.8:-.8 5.1:-.5 5.5:.5 5.8:.4 6.1:-.3 6.7:-.8 7.5:-1 8.1:-1.1 8.7:-1.2 9.1:-1.4 9.5:-1.2 9.8:-.8 10.1:-.3 10.5:0 10.8:-.5 11.1:0 11.5:.2 | 14.7:.2 15.1:.8 15.8:.9 16.8:.8 17.5:.9 18.1:.8 18.5:.9 | 18.9:.8 19.3:.4 19.8:0 20.3:.5 20.7:.2 20.9:-.3 21.1:-1.8 21.3:-.5 21.6:.5 22:.8 22.5:.3 22.8:-.3 23.3:-.6 23.8:.3 24.1:-.5 24.7:-.9 25.1:-1 25.6:-.7 26:-.2 26.5:-.5 26.9:-.8 27.3:-.4 27.8:.3 28.1:-.2 28.7:-.5 29.1:0 29.6:-.3 30.1:-.5 30.5:-1 31.1:-.9 31.8:-.8 32.1:.3 32.5:.6 32.9:.2 33.3:.5 33.8:-.3 34.3:-.8 34.7:-.5 35.1:.3 35.5:.6 36:0 36.5:-.5 36.8:.3 37.1:.5 37.5:-.2 38:-.6 38.5:-.8 38.9:-.5 39.5:0 40:-.5 40.5:-.4 40.8:.5 41.1:1.1 41.6:.8 42:.2 42.5:-.5 42.9:-.8 43.5:-.5 43.8:0 44.3:.8 44.7:1 44.9:.5 45.3:-.3 45.8:-.8 46.3:-1 46.8:-.9 47.3:-1.1 47.8:-.5 48.1:.3 48.5:.9 48.9:1 49.5:.8 50:.5 50.5:.8 50.9:.3 51.3:.5 51.8:.8 52.1:.5 52.7:.7 53.1:.3 53.5:0 53.8:.5 54.1:.2 54.5:-.3 54.8:-.6 55.1:.3 55.5:.8 56.1:.9 56.8:.8 57.5:.9 58.1:1 58.8:.8 59.1:.3 59.5:-.5 59.8:-.9 60.1:-1 60.8:-1.1 61.5:-1 62.1:-.9 62.8:-1 63.5:-1 64.1:-1.1 64.7:-.8 64.9:-.3 65.3:.3 65.8:0 66.1:.5 66.7:.2 67.1:.5 67.5:.3 68.1:.6 68.7:.3 69.1:.7 69.6:.4 70:0 70.5:-.5 70.9:-.3 71.3:-.6 71.8:-.2 72.1:-.8 72.5:0 | 78:-2 78.5:-1.5 78.9:-.8 79.3:.2 79.8:.5 80.1:1.2 80.5:2 80.9:1.3 81.3:.3 | 81.8:.8 82.1:.3 82.7:.8 83.1:.2 83.6:.5 84.1:.3 84.7:.6 85.1:.8 85.6:1 86:1.2 86.5:.6 86.9:.3 87.3:0 87.8:.3 88.3:-.2 88.7:-.5 89.1:.3 89.6:0 90:.6 90.5:.2 90.9:.7 91.3:0 91.8:.5 92.3:.2 92.8:.7 93.1:1.4 93.5:1.6 93.8:.8 94.3:0 94.7:-.6 95.1:-.9 95.6:-1 96:-.5 96.3:.4 96.7:0",
    # row 26
    "3.5:-.7 | 6.3:-1.5 6.5:-.5 6.8:.8 7.1:1.1 7.5:.6 7.8:.2 8.1:.4 8.5:.8 8.8:1.3 9.1:.6 9.5:-.3 9.8:-.5 10.1:-.2 10.5:-.4 10.8:0 11.1:.2 11.5:-.3 11.8:.1 12.3:1.5 12.7:.5 13.1:-.5 13.6:-.6 14.1:-.5 14.7:-.8 15.1:-.7 15.6:-.6 16.1:-.8 16.7:-.5 17.1:-.6 17.6:-.3 18:0 18.5:.8 18.8:1.2 19.1:.8 19.5:.5 19.8:.2 20.1:.5 20.5:0 20.9:.4 21.3:.8 21.8:.2 22.1:0 22.5:.5 22.8:.3 23.1:0 23.5:.6 23.8:.2 24.1:-.5 24.5:-.8 | 26.3:-1 26.7:-.5 26.9:.5 27.3:.2 27.6:-.2 28:-.5 28.3:0 28.7:-.3 29.1:.2 29.5:0 29.8:.5 30.1:.8 30.5:.5 30.8:1 31.1:.2 31.5:-.3 32:-.6 32.7:-.7 33.3:-.8 34:-.7 34.7:-.8 35.3:-.6 36:-.8 36.7:-.7 37.3:-.8 38:-.5 38.5:-.7 38.8:-.4 39.3:-.2 39.8:-.5 40.3:0 40.7:.8 40.9:.5 41.3:1 41.6:.5 42:.3 42.5:.8 42.8:.5 43.1:.7 43.5:1 43.8:1.2 44.1:1.4 44.5:1.7 44.8:1 45.1:.7 45.5:.9 45.8:.4 46.3:0 46.7:-.5 46.9:-.3 47.3:.3 47.8:.8 48.1:.4 48.5:0 48.8:-.5 49.3:-.8 50:-.7 50.7:-.8 51.3:-.9 52:-.7 52.7:-.8 53.3:-.6 54:-.5 54.5:-.2 54.9:.2 55.3:.5 55.6:0 55.8:.8 56:1.2 56.3:.5 56.7:-.2 57.1:-.5 57.6:-.7 58.1:-.8 58.8:-.7 59.5:-.8 60.1:-.9 60.8:-.8 61.5:-.7 62:-.8 62.5:-.5 62.8:-.3 63.1:0 63.5:.4 63.8:.6 64.1:.3 64.5:.5 64.8:.8 65.1:.5 65.5:0 65.8:.3 66.1:0 66.7:.3 67.1:0 67.6:.4 68:.2 68.5:.5 68.8:.8 69.1:.4 69.5:.2 69.8:.6 70.1:.8 70.5:1.1 70.8:1.3 71.1:.9 71.5:.5 71.8:.6 72.1:.4 72.5:.7 72.8:.3 73.1:0 73.5:.5 73.8:1 74.1:.5 74.5:.2 74.8:.5 75.1:0 75.5:-.3 75.8:.2 76.1:.6 76.5:1 76.8:.3 77.1:-.2 77.5:-.6 77.8:-.3 78.1:0 78.7:-.5 79.1:.3 79.5:.6 79.8:-.2 80.1:-.5 80.5:-.3 80.9:0 81.3:-.3 81.8:-.6 82.3:-.5 82.8:-.8 83.3:0 83.8:-.4 84.3:-.6 84.8:-.7 85.3:-.6 85.8:-.8 86.3:-.7 86.8:-.5 87.1:0 87.5:-.8 88:-.9 88.5:-.7 88.9:-.5 89.5:-.8 90:-.9 90.5:-.6 90.8:-.3 91.3:-.8 91.8:-.9 92.3:-.5 92.8:-.8 93.1:-.6 | 96:-1 96.3:-1.5 96.5:-.8 96.8:-.6 97.1:-.8 97.6:-.6 98.1:-.7 98.7:-.5 99.1:-.2 99.5:.3 99.8:1 100:1.2",
    # row 27
    "0:-.3 .5:-.7 .9:-.9 1.5:-.8 2:-1 2.5:-.8 2.9:-.5 3.5:-.3 4:0 4.3:.5 4.7:.3 4.9:.6 5.3:.2 5.6:.5 6:.2 6.3:-.3 6.7:-.2 7.1:-.6 7.3:0 7.8:.3 8.1:0 8.5:.6 8.8:.5 9.1:.9 9.5:.4 9.8:.8 10.1:1.3 10.5:.5 10.8:.9 11.1:.3 11.5:0 11.8:.6 12.3:.3 12.7:.7 12.9:0 13.3:.5 13.8:.2 14.1:.5 14.5:-.2 14.8:.4 15.1:0 15.5:.5 15.8:-.4 16.3:-.6 16.7:-.4 17.1:-.8 | 19.6:.2 19.9:1 20.1:.6 20.5:1.3 20.8:1 21.1:1.5 21.5:1.9 21.8:.8 22.1:.5 22.5:-.3 22.8:0 23.1:-.5 23.5:-.3 23.8:-.7 24.1:-1 24.5:-.4 24.8:.2 25.1:-.3 25.5:0 26:-.6 26.5:-.3 26.8:.3 27.1:-.2 27.5:.4 27.8:-.2 28.1:.2 28.5:.5 28.8:0 29.1:.4 29.5:0 29.8:.3 30.1:.6 30.5:-.2 30.8:.2 31.1:.6 31.5:.3 31.8:.8 32.1:1.2 32.5:.5 32.8:-.2 33.1:.3 33.5:.6 33.8:0 34.1:.4 34.5:-.3 34.8:.5 35.1:0 35.5:.3 35.8:-.4 36.1:0 36.5:.5 36.8:-.3 37.1:0 37.5:.3 37.8:-.5 38.1:.2 38.5:.5 38.8:.3 39.1:.6 39.5:.2 39.7:0",
]

# sample colours, drawn over each other: (colour, line width, alpha)
SERIES = [('#6878b0', 2.3, 0.5), ('#2e9a3a', 1.8, 0.55), ('#222222', 1.3, 1.0), ('#c8404e', 1.3, 0.55)]


def parse_profile(text):
    segments = []
    for chunk in text.split('|'):
        pts = [p.split(':') for p in chunk.split()]
        xs = np.array([float(a) for a, _ in pts])
        ys = np.array([float(b) for _, b in pts])
        segments.append((xs, ys))
    return segments


offsets = np.concatenate([[0.0], np.cumsum(CHROM_MB)[:-1]])
genome_end = offsets[-1] + CHROM_MB[-1]
n_rows = len(ROW_PROFILES)

W, H = 1514, 1871
fig = plt.figure(figsize=(W / 100, H / 100), dpi=100)

# where each chromosome name goes (row, x)
label_pos = {}
for name, off in zip(CHROMS, offsets):
    row = int(off // ROW_MB)
    local = off - row * ROW_MB
    if local > 98:
        label_pos[name] = (row + 1, 0.25)
    else:
        label_pos[name] = (row, local + 0.3)

hl_off = offsets[CHROMS.index(HIGHLIGHT[0])]

for i in range(n_rows):
    top = 14.5 + 69.0 * i
    ax = fig.add_axes([46 / W, 1 - (top + 33.5) / H, 1449 / W, 33.5 / H])
    row_start = i * ROW_MB
    ax.set_xlim(0, ROW_MB)
    ax.set_ylim(-2.3, 2.3)

    # highlighted region
    hs, he = hl_off + HIGHLIGHT[1] - row_start, hl_off + HIGHLIGHT[2] - row_start
    if he > 0 and hs < ROW_MB:
        ax.axvspan(max(hs, 0), min(he, ROW_MB), color='#bdbdbd', lw=0, zorder=0)

    for yv in Y_TICKS:
        ax.axhline(yv, color='#c8c8c8', lw=1.2, zorder=1)
    ax.axhline(0, color='#333333', lw=1.1, zorder=2)

    for xs, ys in parse_profile(ROW_PROFILES[i]):
        if len(xs) == 1:
            ax.plot(xs, ys, '.', ms=2, color='#6878b0', zorder=3)
            continue
        for color, lw, alpha in SERIES:
            ax.plot(xs, ys, color=color, lw=lw, alpha=alpha, zorder=3,
                    solid_joinstyle='round')

    # chromosome boundaries
    for b in list(offsets[1:]) + [genome_end]:
        if row_start < b <= row_start + ROW_MB:
            ax.axvline(b - row_start, color='black', lw=1.6, zorder=4)

    for name, (row, x) in label_pos.items():
        if row == i:
            ax.text(x, 2.15, name, ha='left', va='top', fontsize=10.5, color='black', zorder=5)

    # genomic position ticks, every 10 Mb within each chromosome
    ticks, labels = [], []
    for off, length in zip(offsets, CHROM_MB):
        for pos in np.arange(0, length, 10):
            g = off + pos
            if row_start - 1e-6 <= g < row_start + ROW_MB - 1e-6:
                ticks.append(g - row_start)
                labels.append(f'{pos:.1f}')
    ax.set_xticks(ticks)
    ax.set_xticklabels(labels)
    ax.set_yticks(Y_TICKS)
    ax.set_yticklabels(Y_TICK_LABELS)
    ax.tick_params(axis='x', length=4, width=1.3, color='#444444', labelsize=10.5,
                   labelcolor='#333333', pad=7.5)
    ax.tick_params(axis='y', length=0, labelsize=10.5, labelcolor='#333333', pad=9)
    for sp in ax.spines.values():
        sp.set_color('#444444')
        sp.set_linewidth(2.2)

fig.add_artist(plt.Line2D([18 / W, 18 / W], [1 - 1862 / H, 1 - 1849 / H],
                          transform=fig.transFigure, color='black', lw=1.2))

fig.savefig('out.png', dpi=100)
plt.close(fig)
